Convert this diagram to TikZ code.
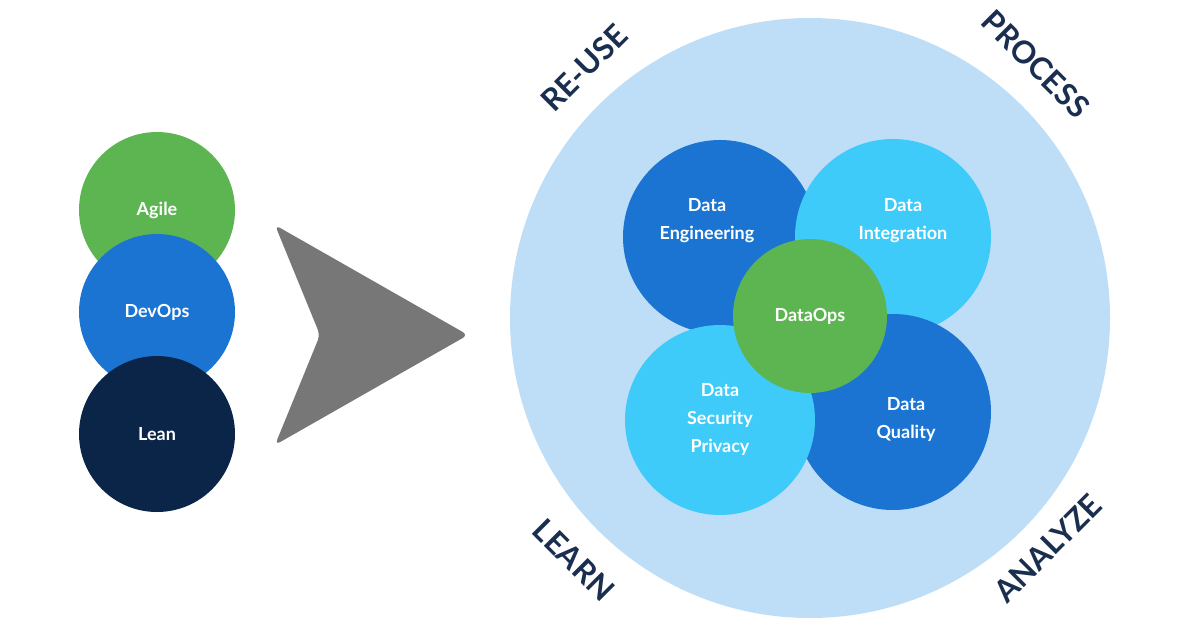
\documentclass[tikz,border=0pt]{standalone}
\usepackage{fontspec}
\setmainfont{Lato}
\definecolor{cgreen}{HTML}{5DB552}
\definecolor{cblue}{HTML}{1B74D1}
\definecolor{cnavy}{HTML}{0B2549}
\definecolor{ccyan}{HTML}{3FCBFA}
\definecolor{cbg}{HTML}{BEDEF8}
\definecolor{cgrey}{HTML}{777777}
\definecolor{ctxt}{HTML}{1A2E4F}
\begin{document}
\begin{tikzpicture}[x=1pt,y=-1pt,
  circ/.style={circle,inner sep=0pt},
  lbl/.style={align=center,text=white,font=\bfseries\fontsize{18}{28}\selectfont},
  word/.style={text=ctxt,font=\bfseries\fontsize{31}{31}\selectfont}]
\useasboundingbox (0,0) rectangle (1200,627);
\fill[white] (0,0) rectangle (1200,627);
% left
\node[circ,fill=cgreen,minimum size=156pt] (agile) at (157,210) {};
\node[lbl] at (157,210) {Agile};
\node[circ,fill=cblue,minimum size=156pt] (devops) at (157,312) {};
\node[lbl] at (157,312) {DevOps};
\node[circ,fill=cnavy,minimum size=156pt] (lean) at (157,434) {};
\node[lbl] at (157,434) {Lean};
% arrow
\fill[cgrey,rounded corners=6pt] (275,225) -- (468,335) -- (275,445) -- (320,335) -- cycle;
% big circle
\node[circle,fill=cbg,minimum size=600pt,inner sep=0pt] (big) at (810,318) {};
\node[circ,fill=cblue,minimum size=194pt] (eng) at (720,237) {};
\node[lbl] at (707,221) {Data\\Engineering};
\node[circ,fill=ccyan,minimum size=196pt] (int) at (893,237) {};
\node[lbl] at (903,221) {Data\\Integration};
\node[circ,fill=cblue,minimum size=196pt] (qual) at (893,412) {};
\node[lbl] at (906,419) {Data\\Quality};
\node[circ,fill=ccyan,minimum size=190pt] (sec) at (720,420) {};
\node[lbl] at (720,419) {Data\\Security\\Privacy};
\node[circ,fill=cgreen,minimum size=154pt] (ops) at (810,316) {};
\node[lbl] at (810,316) {DataOps};
% words
\node[word,rotate=45] (reuse) at (584,68) {RE-USE};
\node[word,rotate=-45] (process) at (1036,64) {PROCESS};
\node[word,rotate=-45] (learn) at (574,560) {LEARN};
\node[word,rotate=45] (analyze) at (1048,548) {ANALYZE};
\end{tikzpicture}
\end{document}
